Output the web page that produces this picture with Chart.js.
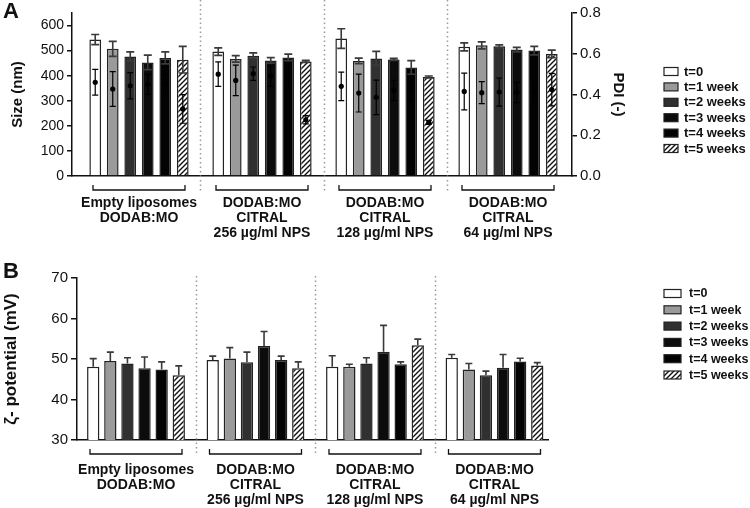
<!DOCTYPE html>
<html lang="en">
<head>
<meta charset="UTF-8" />
<title>Liposome stability</title>
<script src="https://cdn.jsdelivr.net/npm/chart.js"></script>
<style>
  body { margin: 0; background: #fff; }
  canvas { position: absolute; left: 0; }
  #chartA { top: 0; }
  #chartB { top: 250px; }
</style>
</head>
<body>
<canvas id="chartA" width="750" height="250"></canvas>
<canvas id="chartB" width="750" height="258"></canvas>
<script>
// formulations (x groups), each label split in lines
const groups = [
  ["Empty liposomes", "DODAB:MO"],
  ["DODAB:MO", "CITRAL", "256 µg/ml NPS"],
  ["DODAB:MO", "CITRAL", "128 µg/ml NPS"],
  ["DODAB:MO", "CITRAL", "64 µg/ml NPS"]
];
const timePoints = ["t=0", "t=1 week", "t=2 weeks", "t=3 weeks", "t=4 weeks", "t=5 weeks"];

// panel A - size (nm), one row per time point
const sizeMean = [
  [544, 496, 548, 515],
  [507, 467, 459, 521],
  [477, 480, 469, 517],
  [453, 461, 465, 504],
  [471, 473, 433, 500],
  [464, 457, 395, 487]
];
const sizeErr = [
  [20, 15, 39, 16],
  [30, 13, 11, 14],
  [18, 11, 28, 6],
  [29, 11, 4, 9],
  [24, 13, 27, 17],
  [53, 4, 4, 15]
];
// panel A - PDI, right axis
const pdiMean = [
  [0.46, 0.50, 0.44, 0.415],
  [0.427, 0.469, 0.407, 0.409],
  [0.443, 0.502, 0.386, 0.412],
  [0.45, 0.49, 0.42, 0.41],
  [0.45, 0.49, 0.42, 0.41],
  [0.329, 0.276, 0.263, 0.424]
];
const pdiErr = [
  [0.063, 0.06, 0.07, 0.09],
  [0.085, 0.075, 0.093, 0.054],
  [0.064, 0.033, 0.085, 0.069],
  [0.05, 0.05, 0.05, 0.05],
  [0.05, 0.05, 0.05, 0.05],
  [0.07, 0.02, 0.01, 0.08]
];
// panel B - zeta potential (mV)
const zetaMean = [
  [48.1, 49.75, 48.1, 50.3],
  [49.5, 50.1, 48.1, 47.4],
  [48.9, 49.2, 48.9, 46.0],
  [47.7, 53.2, 51.8, 47.85],
  [47.4, 49.75, 48.7, 49.4],
  [46.0, 47.7, 53.4, 48.4]
];
const zetaErr = [
  [2.0, 0.95, 2.7, 0.8],
  [2.2, 2.7, 0.6, 1.5],
  [1.4, 2.5, 1.4, 1.0],
  [2.8, 3.6, 6.5, 3.25],
  [1.9, 0.95, 0.6, 0.8],
  [2.3, 1.6, 1.5, 0.7]
];
const sizeTicks = [0, 650, 100];
const pdiTicks = [0, 0.8, 0.2];
const zetaTicks = [30, 70, 10];

const FONT = "'Liberation Sans', Arial, sans-serif";
Chart.defaults.font.family = FONT;
Chart.defaults.color = "#111";

function hatch(ctx) {
  const c = document.createElement("canvas");
  c.width = 5; c.height = 5;
  const g = c.getContext("2d");
  g.fillStyle = "#fff";
  g.fillRect(0, 0, 5, 5);
  g.strokeStyle = "#111";
  g.lineWidth = 1.4;
  g.beginPath();
  g.moveTo(0, 5); g.lineTo(5, 0);
  g.moveTo(-1, 1); g.lineTo(1, -1);
  g.moveTo(4, 6); g.lineTo(6, 4);
  g.stroke();
  return ctx.createPattern(c, "repeat");
}

function makeDatasets(ctx, means, catPct, barPct) {
  const fills = ["#ffffff", "#9a9a9a", "#303030", "#0c0c0c", "#030303", hatch(ctx)];
  return timePoints.map((t, k) => ({
    label: t,
    data: means[k].map((v, i) => ({ x: i, y: v })),
    backgroundColor: fills[k],
    borderColor: "#222",
    borderWidth: 1.5,
    categoryPercentage: catPct,
    barPercentage: barPct
  }));
}

function vErr(ctx, x, yHi, yLo, cap) {
  ctx.beginPath();
  ctx.moveTo(x, yHi); ctx.lineTo(x, yLo);
  ctx.moveTo(x - cap, yHi); ctx.lineTo(x + cap, yHi);
  ctx.moveTo(x - cap, yLo); ctx.lineTo(x + cap, yLo);
  ctx.stroke();
}

// dotted separators, brackets, group names, legend, panel letter
function decorate(chart, o) {
  const ctx = chart.ctx, x = chart.scales.x;
  ctx.save();
  ctx.strokeStyle = "#9a9a9a";
  ctx.lineWidth = 1.5;
  ctx.setLineDash([1.5, 3]);
  for (let i = 0; i < groups.length - 1; i++) {
    const px = Math.round((x.getPixelForValue(i) + x.getPixelForValue(i + 1)) / 2) + 0.5;
    ctx.beginPath();
    ctx.moveTo(px, o.sepTop); ctx.lineTo(px, o.sepBottom);
    ctx.stroke();
  }
  ctx.setLineDash([]);
  ctx.strokeStyle = "#111";
  ctx.lineWidth = 1.3;
  ctx.fillStyle = "#111";
  ctx.textAlign = "center";
  ctx.textBaseline = "middle";
  ctx.font = "bold 14px " + FONT;
  groups.forEach((lines, i) => {
    const cx = x.getPixelForValue(i);
    ctx.beginPath();
    ctx.moveTo(cx - 46, o.bracketY - 5);
    ctx.lineTo(cx - 46, o.bracketY);
    ctx.lineTo(cx + 46, o.bracketY);
    ctx.lineTo(cx + 46, o.bracketY - 5);
    ctx.stroke();
    lines.forEach((s, j) => ctx.fillText(s, cx, o.labelY + j * 15));
  });
  // legend
  ctx.textAlign = "left";
  ctx.font = "bold " + o.legFont + "px " + FONT;
  chart.data.datasets.forEach((ds, k) => {
    const y = o.legY + k * o.legStep;
    ctx.fillStyle = ds.backgroundColor;
    ctx.fillRect(664, y - 4, o.swW, 8);
    ctx.lineWidth = 1.2;
    ctx.strokeStyle = "#222";
    ctx.strokeRect(664, y - 4, o.swW, 8);
    ctx.fillStyle = "#111";
    ctx.fillText(ds.label, o.legX, y + 0.5);
  });
  ctx.font = "bold 22px " + FONT;
  ctx.fillText(o.letter, 3, o.letterY);
  ctx.restore();
}

function axisY(min, max, step, title, size, titleSize, titlePad, width, extra) {
  return Object.assign({
    min: min, max: max,
    grid: { drawOnChartArea: false, tickLength: 5, color: "#111", lineWidth: 1.5 },
    border: { color: "#111", width: 1.5 },
    ticks: { stepSize: step, includeBounds: false, padding: 3, font: { size: size }, color: "#111" },
    title: { display: true, text: title, font: { size: titleSize, weight: "bold" }, color: "#111", padding: { top: titlePad, bottom: 0 } },
    afterFit: (s) => { s.width = width; }
  }, extra || {});
}

function axisX(min, max, height) {
  return {
    type: "linear", min: min, max: max, offset: false,
    grid: { display: false },
    border: { color: "#111", width: 1.5 },
    ticks: { display: false, stepSize: 1, includeBounds: false },
    afterFit: (s) => { s.height = height; }
  };
}

// ---------- panel A ----------
const ctxA = document.getElementById("chartA").getContext("2d");
new Chart(ctxA, {
  type: "bar",
  data: { datasets: makeDatasets(ctxA, sizeMean, 0.854, 0.67) },
  options: {
    responsive: false,
    animation: false,
    layout: { padding: { top: 13, right: 118, left: 0, bottom: 0 } },
    plugins: { legend: { display: false }, tooltip: { enabled: false } },
    scales: {
      x: axisX(-0.5447, 3.5203, 74),
      y: axisY(sizeTicks[0], sizeTicks[1], sizeTicks[2], "Size (nm)", 14, 15, 9, 72, { position: "left" }),
      y1: axisY(pdiTicks[0], pdiTicks[1], pdiTicks[2], "PDI (-)", 15, 15, 5, 60, {
        position: "right",
        ticks: { stepSize: pdiTicks[2], includeBounds: false, padding: 3, font: { size: 15 }, color: "#111",
                 callback: (v) => v.toFixed(1) }
      })
    }
  },
  plugins: [{
    id: "errA",
    afterDatasetsDraw(chart) {
      const ctx = chart.ctx, y = chart.scales.y, y1 = chart.scales.y1;
      ctx.save();
      chart.data.datasets.forEach((ds, k) => {
        chart.getDatasetMeta(k).data.forEach((bar, i) => {
          const m = sizeMean[k][i], e = sizeErr[k][i];
          ctx.strokeStyle = "#3a3a3a";
          ctx.lineWidth = 1.6;
          vErr(ctx, bar.x, y.getPixelForValue(m + e), y.getPixelForValue(m - e), 4);
          const p = pdiMean[k][i], pe = pdiErr[k][i];
          ctx.strokeStyle = "#000";
          ctx.lineWidth = 1.2;
          vErr(ctx, bar.x, y1.getPixelForValue(p + pe), y1.getPixelForValue(p - pe), 3);
          ctx.fillStyle = "#000";
          ctx.beginPath();
          ctx.arc(bar.x, y1.getPixelForValue(p), 2.6, 0, Math.PI * 2);
          ctx.fill();
        });
      });
      ctx.restore();
    },
    afterDraw(chart) {
      decorate(chart, { sepTop: 0, sepBottom: 192, bracketY: 190, labelY: 203,
        legY: 71.5, legStep: 15.4, legX: 684, legFont: 13, swW: 14, letter: "A", letterY: 12 });
    }
  }]
});

// ---------- panel B ----------
const ctxB = document.getElementById("chartB").getContext("2d");
new Chart(ctxB, {
  type: "bar",
  data: { datasets: makeDatasets(ctxB, zetaMean, 0.859, 0.72) },
  options: {
    responsive: false,
    animation: false,
    layout: { padding: { top: 28, right: 202, left: 0, bottom: 0 } },
    plugins: { legend: { display: false }, tooltip: { enabled: false } },
    scales: {
      x: axisX(-0.4937, 3.4477, 68),
      y: axisY(zetaTicks[0], zetaTicks[1], zetaTicks[2], "ζ- potential (mV)", 15, 17, 1, 77, {
        position: "left",
        grid: { drawOnChartArea: false, tickLength: 6, color: "#111", lineWidth: 1.5 }
      })
    }
  },
  plugins: [{
    id: "errB",
    afterDatasetsDraw(chart) {
      const ctx = chart.ctx, y = chart.scales.y;
      ctx.save();
      ctx.strokeStyle = "#3a3a3a";
      ctx.lineWidth = 1.6;
      chart.data.datasets.forEach((ds, k) => {
        chart.getDatasetMeta(k).data.forEach((bar, i) => {
          const m = zetaMean[k][i], e = zetaErr[k][i];
          const top = y.getPixelForValue(m + e);
          ctx.beginPath();
          ctx.moveTo(bar.x, y.getPixelForValue(m)); ctx.lineTo(bar.x, top);
          ctx.moveTo(bar.x - 3.5, top); ctx.lineTo(bar.x + 3.5, top);
          ctx.stroke();
        });
      });
      ctx.restore();
    },
    afterDraw(chart) {
      decorate(chart, { sepTop: 26, sepBottom: 206, bracketY: 204, labelY: 220,
        legY: 43.5, legStep: 16.3, legX: 689, legFont: 12.5, swW: 17, letter: "B", letterY: 22 });
    }
  }]
});
</script>
</body>
</html>
